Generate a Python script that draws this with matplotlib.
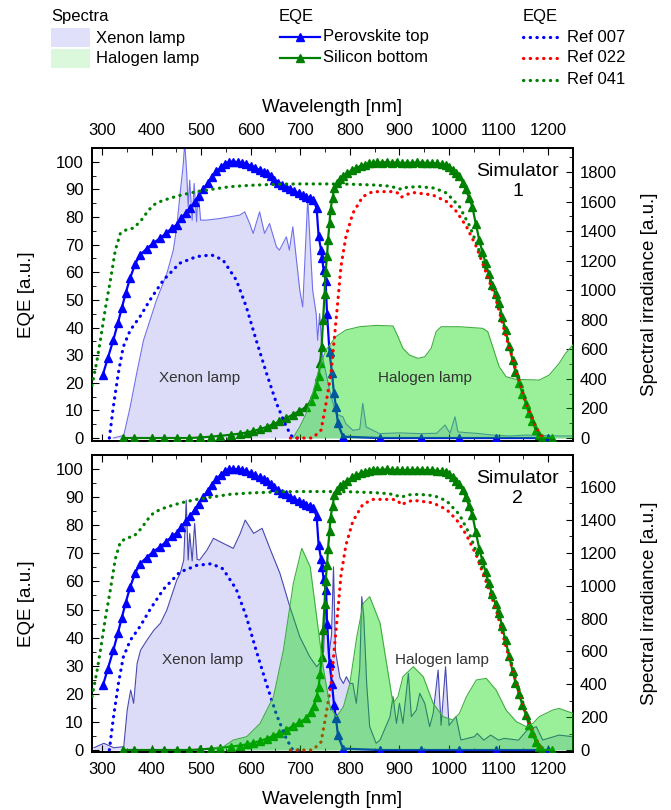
import matplotlib
matplotlib.use("Agg")
import matplotlib.pyplot as plt
import numpy as np
from matplotlib.patches import Rectangle
from matplotlib.lines import Line2D
from matplotlib.ticker import MultipleLocator

plt.rcParams['font.family'] = ['Liberation Sans', 'DejaVu Sans']

# ---------------- EQE data (same in both panels) ----------------
pero_wl = [302, 312, 323, 332, 340, 348, 357, 367, 377, 390, 403, 417, 430, 441, 451, 460, 469, 478, 487,
           495, 504, 513, 522, 531, 540, 548, 557, 565, 574, 582, 591, 600, 609, 618, 626, 632, 640, 648,
           656, 664, 672, 680, 688, 697, 705, 712, 719, 726, 733, 737, 742, 744, 747, 751, 754, 759, 764,
           768, 772, 776, 786, 861, 944, 1021, 1095, 1199]
pero_eqe = [23, 29, 35.5, 41.5, 47, 52.5, 58, 63, 66.3, 68.5, 70.5, 72.3, 74.2, 76, 77.2, 79.5, 81.5, 83.2,
            85.5, 87.7, 90, 92.3, 94.5, 96.5, 98, 99.3, 100, 100.1, 99.9, 99.6, 99.3, 98.6, 97.9, 97, 96.3,
            95.9, 94.8, 93.5, 92.5, 91.6, 91, 90.2, 89.4, 88.6, 88, 87.3, 86.8, 86.2, 83.2, 73, 68, 65, 61,
            57, 45, 31, 23.4, 16.2, 11.3, 5.3, 0.5, 0, 0, 0, 0, 0]

si_wl = [343, 364, 400, 425, 451, 475, 498, 520, 538, 560, 578, 592, 605, 618, 632, 645, 658, 672, 685, 698,
         712, 722, 728, 733, 737, 740, 743, 746, 749, 751, 754, 756, 759, 761, 765, 769, 775, 781, 786, 795,
         805, 813, 822, 830, 838, 846, 855, 865, 875, 885, 895, 905, 915, 925, 935, 945, 955, 965, 975, 985,
         993, 1000, 1008, 1015, 1021, 1028, 1034, 1040, 1047, 1054, 1061, 1067, 1074, 1080, 1087, 1094,
         1101, 1107, 1114, 1121, 1128, 1134, 1141, 1148, 1155, 1161, 1168, 1175, 1182, 1188, 1207]
si_eqe = [0, 0, 0, 0, 0, 0, 0.2, 0.5, 0.8, 1.2, 1.6, 2, 2.5, 3.2, 4, 5, 6, 7.2, 8.5, 9.8,
          11.3, 13.5, 15.8, 19, 22.5, 27, 33, 42.8, 52, 60, 66, 71.7, 78, 82.6, 87, 90.6, 92.5, 93.8, 94.7,
          95.9, 97, 97.8, 98.5, 99, 99.4, 99.6, 99.8, 99.7, 99.9, 99.6, 99.8, 99.5, 99.7, 99.6, 99.8, 99.7,
          99.6, 99.6, 99.4, 99.2, 98.8, 98.3, 97, 95.8, 94.7, 92.5, 90, 87, 83.8, 77.5, 71.7, 67.5, 63.3,
          59.5, 55.4, 52, 48.8, 44, 39, 33.5, 28.3, 24, 20, 16, 12.5, 9, 6, 3, 1.2, 0, 0]

ref007_wl = [315, 323, 333, 343, 357, 377, 397, 424, 457, 491, 521, 544, 571, 591, 611, 632, 652, 672, 685, 700]
ref007_eqe = [0, 11.3, 23.4, 33, 39, 44, 50, 57.2, 63.3, 65.7, 66.3, 64.5, 57.2, 47.6, 35.5, 23.4, 12.6, 4, 0, 0]

ref022_wl = [680, 700, 725, 742, 752, 762, 769, 776, 782, 792, 806, 826, 846, 861, 887, 897, 904, 912, 927,
             967, 995, 1015, 1035, 1055, 1075, 1095, 1115, 1135, 1155, 1175, 1189]
ref022_eqe = [0, 0, 0, 2.9, 12.6, 23.4, 36.7, 50, 62, 72.9, 81.4, 87.4, 89.2, 89.2, 89.2, 88.7, 87.2, 88,
              88.9, 88, 85.6, 82, 76.6, 69.3, 59.8, 50, 36.7, 24.6, 12.7, 4, 0]

ref041_wl = [280, 290, 297, 307, 317, 327, 337, 350, 364, 372, 380, 392, 404, 420, 437, 460, 491, 520, 558,
             600, 658, 700, 750, 800, 850, 880, 895, 905, 915, 940, 970, 995, 1021, 1042, 1055, 1075, 1095,
             1115, 1136, 1156, 1176, 1186]
ref041_eqe = [19, 28, 35.5, 47, 57, 68, 74, 75.5, 76, 77.5, 79, 82, 84.4, 85.8, 86.8, 88, 89.2, 90, 91,
              91.5, 91.9, 92, 92, 91.9, 91.6, 91.2, 90.5, 90, 90.8, 91, 90.5, 88.7, 83.8, 76.6, 70.6, 60.9,
              51.2, 38, 24.6, 12.7, 3, 0]

# ---------------- Spectra, simulator 1 ----------------
xe1_wl = [323, 344, 357, 370, 384, 397, 410, 431, 444, 451, 457, 464, 467, 471, 474, 477, 482, 486, 491, 494,
          499, 511, 538, 578, 588, 598, 605, 618, 628, 638, 652, 658, 672, 678, 685, 699, 705, 715, 725, 732,
          735, 739, 745, 759, 772, 786, 792, 806, 820, 826, 833, 860, 900, 940, 975, 992, 1002, 1012, 1018,
          1055, 1088, 1122, 1155, 1222, 1249]
xe1_irr = [0, 18, 210, 436, 662, 797, 932, 1113, 1271, 1429, 1632, 1850, 2000, 1790, 1564, 1745, 1474, 1722,
           1463, 1677, 1474, 1474, 1485, 1508, 1530, 1451, 1384, 1530, 1384, 1451, 1293, 1271, 1361, 1271,
           1429, 1000, 887, 1620, 1000, 842, 662, 842, 549, 323, 165, 143, 97, 52, 60, 235, 75, 30, 35, 30,
           32, 88, 32, 144, 41, 32, 20, 14, 20, 14, 14]

ha1_wl = [685, 699, 712, 725, 739, 752, 772, 792, 820, 853, 887, 897, 907, 920, 937, 951, 964, 974, 984,
          1021, 1068, 1078, 1088, 1101, 1115, 1135, 1182, 1202, 1222, 1235, 1250]
ha1_irr = [0, 76, 167, 302, 483, 596, 686, 731, 753, 762, 758, 686, 607, 562, 539, 550, 607, 720, 753,
           753, 742, 720, 618, 483, 415, 397, 392, 426, 505, 573, 630]

# ---------------- Spectra, simulator 2 ----------------
xe2_wl = [284, 304, 324, 344, 351, 358, 364, 371, 378, 391, 405, 418, 431, 451, 458, 465, 470, 474, 477, 482,
          487, 492, 497, 512, 525, 545, 565, 579, 589, 606, 623, 640, 659, 679, 699, 719, 733, 740, 747, 753,
          757, 763, 767, 771, 780, 787, 793, 800, 806, 813, 820, 824, 828, 834, 840, 853, 861, 881, 887, 894,
          900, 907, 912, 918, 924, 934, 941, 951, 961, 968, 978, 984, 993, 1000, 1014, 1024, 1051, 1057,
          1070, 1084, 1100, 1111, 1140, 1158, 1176, 1189, 1222, 1249]
xe2_irr = [14, 41, 14, 20, 243, 365, 284, 527, 608, 669, 730, 771, 852, 1034, 1075, 1156, 1521, 1156, 1318,
           1150, 1379, 1160, 1156, 1217, 1288, 1257, 1227, 1318, 1399, 1318, 1349, 1217, 1075, 872, 689, 568,
           507, 530, 600, 1014, 560, 700, 1115, 600, 440, 405, 446, 405, 405, 284, 500, 933, 811, 400, 142,
           41, 61, 203, 325, 162, 284, 162, 300, 466, 203, 243, 345, 284, 142, 223, 487, 150, 507, 150, 203,
           61, 81, 101, 60, 91, 60, 71, 60, 122, 142, 61, 91, 81]

ha2_wl = [525, 545, 565, 592, 619, 646, 666, 686, 703, 720, 733, 746, 760, 773, 787, 800, 814, 827, 840, 861,
          874, 887, 897, 907, 928, 948, 968, 988, 1008, 1021, 1035, 1055, 1075, 1095, 1115, 1136, 1156, 1169,
          1182, 1209, 1222, 1250]
ha2_irr = [14, 20, 61, 81, 162, 324, 608, 1014, 1227, 1115, 811, 507, 263, 203, 263, 405, 689, 892, 933, 771,
           527, 284, 325, 446, 507, 446, 284, 203, 183, 223, 324, 426, 436, 365, 243, 172, 142, 162, 203, 243,
           253, 223]

x_ticks = [300, 400, 500, 600, 700, 800, 900, 1000, 1100, 1200]

W, H = 671, 810
fig = plt.figure(figsize=(W / 100, H / 100), dpi=100)


def fx(px):
    return px / W


def fy(py):
    return 1 - py / H


XE_FILL = '#dcdcf8'
HA_COLOR = (0.0, 0.86, 0.0)
FS = 12


def dotted(ax, x, y, color, z):
    ax.plot(x, y, color=color, lw=2.3, linestyle=(0, (0.1, 2.0)), dash_capstyle='round', zorder=z)


def panel(rect, xe_wl, xe_irr, xe_edge, ha_wl, ha_irr, ylim_r, rticks_max, sim_label, top, ha_z,
          xe_text_xy, ha_text_xy):
    ax = fig.add_axes(rect)
    ax2 = ax.twinx()
    ax.set_zorder(2)
    ax.patch.set_visible(False)
    ax2.set_zorder(1)
    ylim_l = (ylim_r[0] / ylim_r[1] * 105.0, 105.0)

    # spectra on right axis (ax2, drawn below)
    ax2.fill_between(xe_wl, 0, xe_irr, color=XE_FILL, lw=0, zorder=1)
    ax2.plot(xe_wl, xe_irr, color=xe_edge, lw=0.8, zorder=2)
    ax2.set_ylim(*ylim_r)
    ax2.yaxis.set_major_locator(MultipleLocator(200))
    ax2.yaxis.set_minor_locator(MultipleLocator(100))
    ax2.set_yticks(np.arange(0, rticks_max + 1, 200))
    ax2.tick_params(axis='y', which='both', direction='in', labelsize=FS, pad=5)
    ax2.tick_params(axis='y', which='major', length=5)
    ax2.tick_params(axis='y', which='minor', length=3)
    ax2.set_ylabel('Spectral irradiance [a.u.]', fontsize=13.5, labelpad=17)

    # EQE lines on left axis
    ax.plot(pero_wl, pero_eqe, color='#0000ff', lw=1.6, marker='^', ms=6, zorder=3)
    ax.plot(si_wl, si_eqe, color='#008000', lw=1.6, marker='^', ms=6, zorder=3)
    dotted(ax, ref007_wl, ref007_eqe, '#0000ff', 6)
    dotted(ax, ref022_wl, ref022_eqe, '#ff0000', 6)
    dotted(ax, ref041_wl, ref041_eqe, '#008000', 6)

    # halogen spectrum, converted to left-axis units so it can overlay the lines
    scale = (ylim_l[1] - ylim_l[0]) / (ylim_r[1] - ylim_r[0])
    ha_l = [v * scale for v in ha_irr]
    ax.fill_between(ha_wl, 0, ha_l, color=HA_COLOR, alpha=0.4, lw=0, zorder=ha_z)
    ax.plot(ha_wl, ha_l, color='#3fae3f', lw=0.8, zorder=ha_z)

    ax.set_xlim(280, 1250)
    ax.set_ylim(*ylim_l)
    ax.set_xticks(x_ticks)
    ax.xaxis.set_minor_locator(MultipleLocator(50))
    ax.set_yticks(np.arange(0, 101, 10))
    ax.yaxis.set_minor_locator(MultipleLocator(5))
    ax.tick_params(axis='both', which='both', direction='in', labelsize=FS, top=True, bottom=True,
                   left=True, right=False)
    ax.tick_params(axis='both', which='major', length=5)
    ax.tick_params(axis='both', which='minor', length=3)
    ax.tick_params(axis='y', pad=6)
    if top:
        ax.tick_params(axis='x', labeltop=True, labelbottom=False, pad=7)
        ax.xaxis.set_label_position('top')
        ax.set_xlabel('Wavelength [nm]', fontsize=13.5, labelpad=8)
    else:
        ax.tick_params(axis='x', labeltop=False, labelbottom=True, pad=7)
        ax.set_xlabel('Wavelength [nm]', fontsize=13.5, labelpad=10)
    ax.set_ylabel('EQE [a.u.]', fontsize=13.5, labelpad=15)
    for sp in ax.spines.values():
        sp.set_linewidth(1.3)
    for sp in ax2.spines.values():
        sp.set_linewidth(1.3)

    ax.text(0.885, 0.95, sim_label, transform=ax.transAxes, ha='center', va='top', fontsize=14,
            linespacing=1.25, zorder=10)
    ax.text(*xe_text_xy, 'Xenon lamp', ha='center', va='center', fontsize=11, color='#333333', zorder=10)
    ax.text(*ha_text_xy, 'Halogen lamp', ha='center', va='center', fontsize=11, color='#333333', zorder=10)
    return ax


panel([fx(92), fy(441), fx(573) - fx(92), fy(148) - fy(441)], xe1_wl, xe1_irr, '#7070ee',
      ha1_wl, ha1_irr, (-20, 1962), 1800, 'Simulator\n1', True, 5, (496, 21.7), (951, 21.7))
panel([fx(92), fy(752), fx(573) - fx(92), fy(455) - fy(752)], xe2_wl, xe2_irr, '#4848b0',
      ha2_wl, ha2_irr, (-12, 1795), 1600, 'Simulator\n2', False, 7, (502, 32), (985, 32))

# ---------------- legend (figure coordinates) ----------------
fig.text(fx(51), fy(16), 'Spectra', fontsize=FS, va='center', ha='left')
fig.patches.append(Rectangle((fx(51), fy(47)), fx(39), fy(28) - fy(47), transform=fig.transFigure,
                             facecolor='#e0e0fa', edgecolor='none'))
fig.patches.append(Rectangle((fx(51), fy(68)), fx(39), fy(49) - fy(68), transform=fig.transFigure,
                             facecolor='#dcf8dc', edgecolor='none'))
fig.text(fx(96), fy(38), 'Xenon lamp', fontsize=FS, va='center', ha='left')
fig.text(fx(96), fy(58), 'Halogen lamp', fontsize=FS, va='center', ha='left')

fig.text(fx(279), fy(16), 'EQE', fontsize=FS, va='center', ha='left')
for yy, col, lab in [(37, '#0000ff', 'Perovskite top'), (58, '#008000', 'Silicon bottom')]:
    fig.lines.append(Line2D([fx(280), fx(320)], [fy(yy), fy(yy)], transform=fig.transFigure, color=col,
                            lw=1.6))
    fig.lines.append(Line2D([fx(300)], [fy(yy)], transform=fig.transFigure, color=col, marker='^', ms=6))
    fig.text(fx(323), fy(yy), lab, fontsize=FS, va='center', ha='left')

fig.text(fx(523), fy(16), 'EQE', fontsize=FS, va='center', ha='left')
for yy, col, lab in [(37, '#0000ff', 'Ref 007'), (58, '#ff0000', 'Ref 022'), (80, '#008000', 'Ref 041')]:
    fig.lines.append(Line2D([fx(523), fx(561)], [fy(yy), fy(yy)], transform=fig.transFigure, color=col,
                            lw=2.3, linestyle=(0, (0.1, 2.0)), dash_capstyle='round'))
    fig.text(fx(567), fy(yy), lab, fontsize=FS, va='center', ha='left')

fig.savefig('out.png', dpi=100)
